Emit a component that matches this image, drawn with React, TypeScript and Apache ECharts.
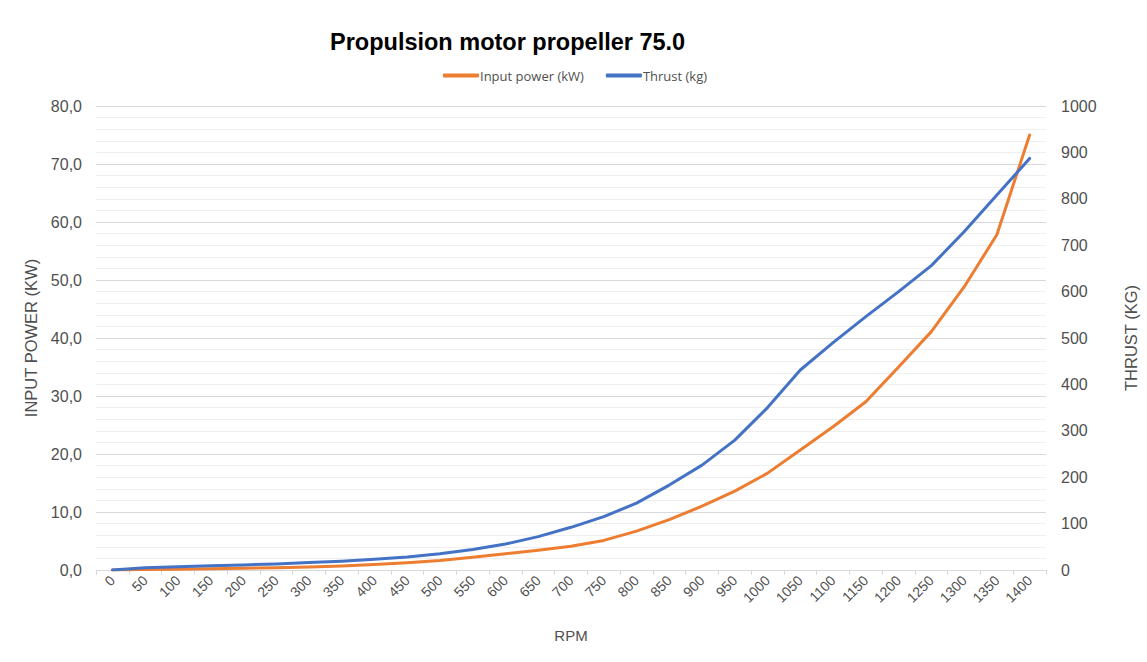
import React, { useEffect, useRef } from "react";
import * as echarts from "echarts";

const rpm = ["0","50","100","150","200","250","300","350","400","450","500","550","600","650","700","750","800","850","900","950","1000","1050","1100","1150","1200","1250","1300","1350","1400"];
const inputPower = [0, 0.1, 0.15, 0.2, 0.3, 0.4, 0.5, 0.7, 0.95, 1.25, 1.65, 2.2, 2.8, 3.4, 4.1, 5.1, 6.7, 8.7, 11.0, 13.6, 16.7, 20.7, 24.7, 29.0, 35.0, 41.1, 48.8, 57.8, 75.0];
const thrust = [0, 5, 7, 9, 11, 13, 16, 19, 23, 28, 35, 44, 56, 72, 92, 115, 144, 183, 226, 280, 350, 431, 490, 546, 600, 656, 729, 808, 887];

const labelColor = "#505050";

export default function App() {
  const ref = useRef<HTMLDivElement>(null);
  useEffect(() => {
    if (!ref.current) return;
    const chart = echarts.init(ref.current, null, { renderer: "svg" });
    chart.setOption({
      animation: false,
      backgroundColor: "#ffffff",
      title: {
        text: "Propulsion motor propeller 75.0",
        left: 325,
        top: 25,
        textStyle: { fontFamily: "Liberation Sans", fontSize: 23.5, fontWeight: "bold", color: "#000000" },
      },
      legend: {
        left: 438,
        top: 64,
        itemWidth: 36,
        itemHeight: 4,
        itemGap: 22,
        icon: "roundRect",
        textStyle: { fontFamily: "Open Sans", fontSize: 13, color: labelColor, padding: [0, 0, 0, -4] },
        data: ["Input power (kW)", "Thrust (kg)"],
      },
      grid: { left: 96, right: 95, top: 106, bottom: 92 },
      xAxis: {
        type: "category",
        data: rpm,
        boundaryGap: true,
        name: "RPM",
        nameLocation: "middle",
        nameGap: 58,
        nameTextStyle: { fontFamily: "Liberation Sans", fontSize: 15, color: labelColor },
        axisLine: { lineStyle: { color: "#d9d9d9" } },
        axisTick: { show: true, length: 5, lineStyle: { color: "#d9d9d9" } },
        axisLabel: { rotate: 45, fontFamily: "Liberation Sans", fontSize: 14, color: labelColor, margin: 8 },
      },
      yAxis: [
        {
          type: "value",
          min: 0,
          max: 80,
          interval: 10,
          name: "INPUT POWER (KW)",
          nameLocation: "middle",
          nameGap: 52,
          nameTextStyle: { fontFamily: "Liberation Sans", fontSize: 16.5, color: labelColor },
          axisLine: { show: false },
          axisTick: { show: false },
          axisLabel: {
            fontFamily: "Liberation Sans",
            fontSize: 16,
            color: labelColor,
            margin: 14,
            formatter: (v: number) => v.toFixed(1).replace(".", ","),
          },
          splitLine: { show: true, lineStyle: { color: "#d9d9d9", width: 1 } },
          minorTick: { show: false, splitNumber: 5 },
          minorSplitLine: { show: true, lineStyle: { color: "#efefef", width: 1 } },
        },
        {
          type: "value",
          min: 0,
          max: 1000,
          interval: 100,
          name: "THRUST (KG)",
          nameLocation: "middle",
          nameGap: 76,
          nameRotate: 90,
          nameTextStyle: { fontFamily: "Liberation Sans", fontSize: 16.5, color: labelColor },
          axisLine: { show: false },
          axisTick: { show: false },
          axisLabel: {
            fontFamily: "Liberation Sans",
            fontSize: 16,
            color: labelColor,
            margin: 15,
            formatter: (v: number) => String(v),
          },
          splitLine: { show: false },
        },
      ],
      series: [
        {
          name: "Input power (kW)",
          type: "line",
          yAxisIndex: 0,
          data: inputPower,
          showSymbol: false,
          symbol: "none",
          lineStyle: { color: "#ED7D31", width: 3, cap: "round", join: "round" },
          itemStyle: { color: "#ED7D31" },
        },
        {
          name: "Thrust (kg)",
          type: "line",
          yAxisIndex: 1,
          data: thrust,
          showSymbol: false,
          symbol: "none",
          lineStyle: { color: "#4472C4", width: 3, cap: "round", join: "round" },
          itemStyle: { color: "#4472C4" },
        },
      ],
    });
    return () => chart.dispose();
  }, []);
  return (
    <div
      ref={ref}
      style={{ position: "absolute", left: 0, top: 0, width: 1147, height: 662, background: "#fff" }}
    />
  );
}
